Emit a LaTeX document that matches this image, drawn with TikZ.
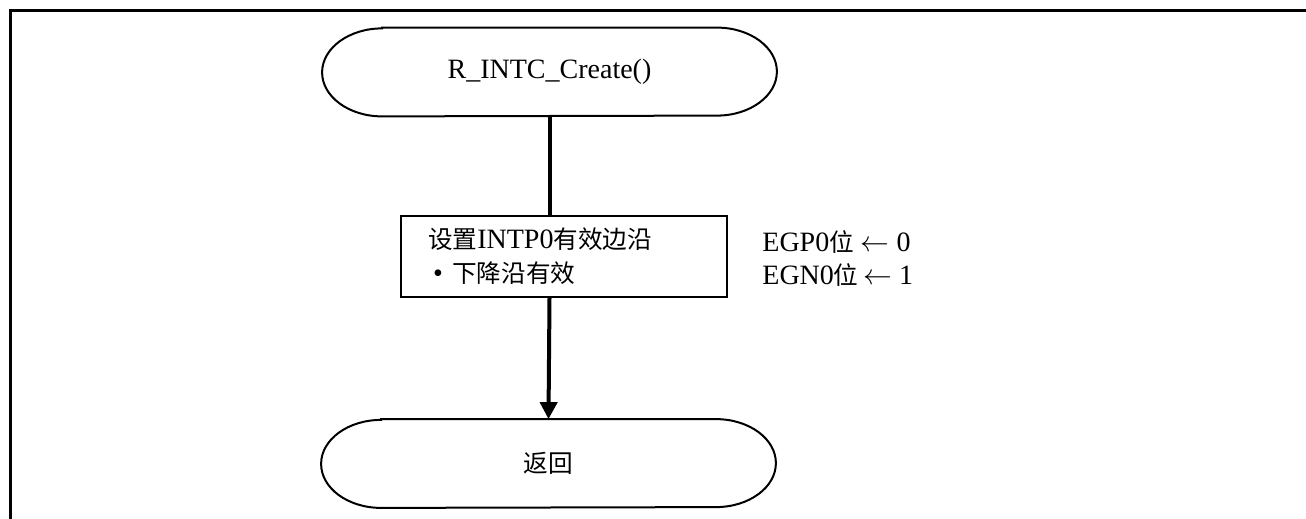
\documentclass[tikz,border=0pt]{standalone}
\usepackage{fontspec}
\setmainfont{Liberation Serif}
\newfontfamily\cjk{Noto Sans CJK SC}[Scale=0.88]
\usetikzlibrary{arrows.meta}
\begin{document}
\begin{tikzpicture}
  [x=0.5pt,y=-0.5pt,
   every node/.style={font=\fontsize{14}{16.5}\selectfont},
   term/.style={rectangle,minimum width=227pt,minimum height=44pt},
   proc/.style={rectangle,draw,line width=1pt,minimum width=163pt,minimum height=40.5pt,
     text width=136pt,align=left,inner xsep=13.5pt},
   lbl/.style={anchor=west,inner sep=0pt},
   flow/.style={line width=2pt}]
  \useasboundingbox (0,0) rectangle (1306,519);
  % frame
  \draw[line width=1.5pt] (10,519) -- (10,11) -- (1306,11);

  \node[term] (start) at (549.5,72) {R\_INTC\_Create()};
  \node[proc] (edge) at (564,256.5) {{\cjk 设置}INTP0{\cjk 有效边沿}\\[0.5pt]
    \hspace*{2.5pt}\textbullet\ {\cjk 下降沿有效}};
  \node[term] (ret) at (548.5,463.5) {\cjk 返回};

  \node[lbl] (egp) at (762,242) {EGP0{\cjk 位} $\leftarrow$ 0};
  \node[lbl] (egn) at (762,275) {EGN0{\cjk 位}\,$\leftarrow$ 1};

  % terminal outlines with elliptic ends
  \foreach \n in {start,ret}
    \draw[line width=1pt] ([xshift=30pt]\n.north west) -- ([xshift=-30pt]\n.north east)
      arc[start angle=90,end angle=-90,x radius=30pt,y radius=22pt]
      -- ([xshift=30pt]\n.south west)
      arc[start angle=270,end angle=90,x radius=30pt,y radius=22pt] -- cycle;

  \draw[flow] (start.south) -- (start.south |- edge.north);
  \draw[flow,-{Triangle[length=8.5pt,width=8.5pt]}] (start.south |- edge.south) -- (ret.north);
\end{tikzpicture}
\end{document}
